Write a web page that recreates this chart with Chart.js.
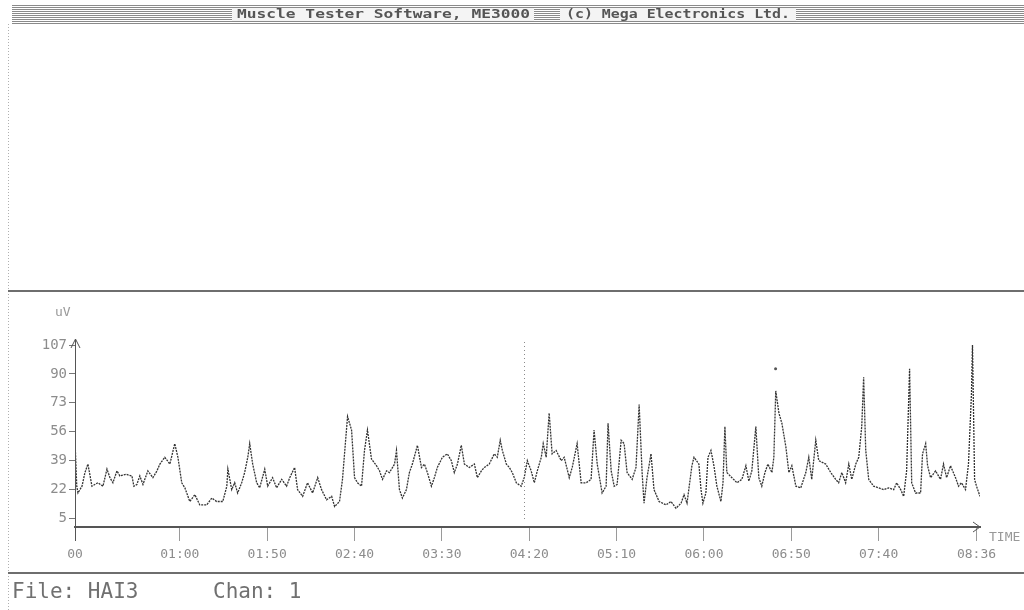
<!DOCTYPE html>
<html lang="en">
<head>
<meta charset="utf-8">
<title>ME3000 - HAI3</title>
<script src="https://cdn.jsdelivr.net/npm/chart.js"></script>
<style>
  html, body { margin: 0; padding: 0; background: #fff; }
  #wrap { width: 1024px; height: 610px; }
</style>
</head>
<body>
<div id="wrap"><canvas id="emgChart" width="1024" height="610"></canvas></div>
<script>
// time in seconds, amplitude in uV
const times = [
  0, 1, 1.7, 4, 5.7, 7.4, 9.7, 13.1, 16, 18.3, 20, 21.7, 24, 25.7, 29.1, 32.6, 33.7, 35.4, 37.1, 38.9,
  41.7, 44.6, 46.9, 48.6, 51.4, 54.3, 57.1, 58.9, 61.1, 62.9, 65.7, 68.6, 71.4, 75.4, 78.3, 81.1, 84.6, 86.9, 87.5, 89.7,
  91.4, 93.1, 95.4, 97.1, 98.9, 100, 101.7, 104, 105.7, 108.6, 110.3, 113.1, 115.4, 118.3, 121.1, 122.9, 125.7, 127.4, 130.3, 133.1,
  136, 138.9, 141.1, 144, 146.9, 148.6, 151.4, 153.1, 156, 158.3, 160, 161.7, 164, 165.7, 167.4, 169.7, 172.6, 174.3, 176, 178.3,
  180, 182.9, 184, 185.7, 187.4, 189.7, 191.4, 193.1, 196, 198.3, 200, 201.7, 204, 205.7, 207.4, 210.3, 213.1, 215.4, 217.1, 218.9,
  221.1, 222.9, 225.7, 228.6, 230.3, 232.6, 234.3, 237.1, 240, 241.7, 243.4, 244.6, 246.9, 248.6, 250.3, 252.6, 255.4, 257.1, 258.9, 261.1,
  262.9, 264.6, 266.9, 268, 269.7, 271.4, 273.1, 275.4, 278.3, 280, 282.9, 284.6, 287.4, 289.7, 292.6, 295.4, 297.1, 298.9, 301.7, 304,
  305.1, 306.9, 308.6, 310.3, 312.6, 314.3, 316, 318.9, 321.1, 322.9, 324.6, 325.7, 327.4, 329.7, 331.4, 334.3, 338.3, 341.1, 344, 346.9,
  348.6, 350.3, 353.1, 354.3, 357.1, 358.3, 359.4, 361.1, 362.3, 364, 365.7, 367.4, 369.7, 370.9, 372, 373.1, 376, 378.9, 381.7, 384,
  385.7, 387.4, 389.7, 391.4, 393.1, 394.9, 396.6, 398.9, 400, 401.1, 402.9, 404.6, 406.9, 408.6, 410.3, 412.6, 415.4, 418.3, 420, 421.7,
  424, 425.7, 429.7, 432.6, 435.4, 437.1, 438.9, 441.1, 442.9, 444.6, 446.9, 448.6, 450.3, 451.4, 452.6, 454.3, 457.1, 460, 462.9, 465.7,
  468.6, 470.3, 472.6, 474.3, 476, 477.7, 478.9, 481.1, 484, 485.1, 486.9, 488, 489.7, 492.6, 495.4, 497.1, 498.9, 501.1, 504, 505.7,
  507.4, 509.7, 511.4, 513.1, 513.7, 514.9, 516, 518
];
const microvolts = [
  51, 24, 20, 24, 32, 37, 24, 26, 24, 34, 29, 26, 33, 30, 31, 30, 24, 25, 30, 25,
  33, 29, 33, 37, 41, 37, 49, 41, 26, 23, 15, 19, 13, 13, 17, 15, 15, 24, 34, 22,
  26, 20, 26, 32, 41, 49, 37, 26, 23, 34, 24, 29, 23, 28, 24, 29, 35, 22, 18, 26,
  20, 29, 22, 16, 18, 12, 15, 28, 65, 57, 29, 26, 24, 45, 57, 40, 36, 33, 28, 33,
  32, 37, 45, 22, 17, 22, 32, 37, 48, 35, 37, 32, 24, 29, 35, 41, 43, 39, 32, 37,
  48, 37, 35, 37, 29, 33, 35, 37, 43, 41, 51, 45, 37, 35, 32, 26, 24, 29, 39, 33,
  26, 33, 41, 49, 41, 67, 43, 45, 39, 41, 29, 35, 49, 26, 26, 28, 57, 37, 20, 24,
  61, 33, 24, 25, 51, 49, 32, 28, 35, 72, 32, 14, 29, 43, 22, 15, 13, 15, 11, 14,
  19, 14, 36, 41, 37, 22, 14, 20, 41, 45, 36, 24, 15, 26, 59, 32, 29, 26, 28, 36,
  27, 33, 59, 29, 24, 32, 37, 32, 41, 80, 67, 61, 47, 32, 36, 24, 23, 32, 41, 28,
  51, 39, 37, 32, 28, 26, 32, 26, 37, 28, 37, 41, 59, 88, 45, 28, 24, 23, 22, 23,
  22, 26, 22, 18, 33, 93, 26, 20, 20, 43, 49, 36, 29, 33, 28, 37, 29, 36, 29, 24,
  26, 22, 37, 78, 107, 28, 24, 18
];
// lone stray dot above the 06:50 burst
const strayTimes = [401];
const strayValues = [93];

const yTicks = [5, 22, 39, 56, 73, 90, 107];
const xTicks = [0, 60, 110, 160, 210, 260, 310, 360, 410, 460, 516];
const xTickLabels = ['00', '01:00', '01:50', '02:40', '03:30', '04:20', '05:10', '06:00', '06:50', '07:40', '08:36'];
const cursorTime = 257;

const MONO = '"DejaVu Sans Mono", "Liberation Mono", monospace';

function stretchText(ctx, text, x, y, width) {
    const w = ctx.measureText(text).width;
    ctx.save();
    ctx.translate(x, y);
    ctx.scale(width / w, 1);
    ctx.fillText(text, 0, 0);
    ctx.restore();
}

// screen furniture of the old ME3000 printout
const screenFrame = {
    id: 'screenFrame',
    beforeDraw(chart) {
        const ctx = chart.ctx;
        ctx.save();
        ctx.fillStyle = '#fff';
        ctx.fillRect(0, 0, chart.width, chart.height);

        // striped title bar
        ctx.strokeStyle = '#8a8a8a';
        ctx.lineWidth = 1;
        for (let y = 5.5; y < 24; y += 2) {
            ctx.beginPath();
            ctx.moveTo(12, y);
            ctx.lineTo(1024, y);
            ctx.stroke();
        }
        ctx.fillStyle = '#f4f4f4';
        ctx.fillRect(232, 8, 302, 13);
        ctx.fillRect(560, 8, 236, 13);
        ctx.fillStyle = '#555';
        ctx.font = 'bold 12px ' + MONO;
        ctx.textBaseline = 'middle';
        stretchText(ctx, 'Muscle Tester Software, ME3000', 237, 15, 293);
        stretchText(ctx, '(c) Mega Electronics Ltd.', 566, 15, 224);

        // panel borders
        ctx.strokeStyle = '#b0b0b0';
        ctx.setLineDash([1, 2]);
        ctx.beginPath();
        ctx.moveTo(8.5, 24);
        ctx.lineTo(8.5, 610);
        ctx.stroke();
        ctx.setLineDash([]);
        ctx.strokeStyle = '#6e6e6e';
        ctx.lineWidth = 2;
        [291, 573].forEach(y => {
            ctx.beginPath();
            ctx.moveTo(8, y);
            ctx.lineTo(1024, y);
            ctx.stroke();
        });

        // footer
        ctx.fillStyle = '#707070';
        ctx.font = '21px ' + MONO;
        ctx.textBaseline = 'alphabetic';
        ctx.fillText('File: HAI3', 12, 598);
        ctx.fillText('Chan: 1', 213, 598);
        ctx.restore();
    },
    afterDraw(chart) {
        const ctx = chart.ctx;
        const xs = chart.scales.x;
        const area = chart.chartArea;
        ctx.save();
        ctx.strokeStyle = '#555';
        ctx.lineWidth = 1;
        // axis arrow heads and extensions
        ctx.beginPath();
        ctx.moveTo(area.left + 0.5, area.top - 6);
        ctx.lineTo(area.left + 0.5, area.bottom + 14);
        ctx.moveTo(area.left - 4, area.top + 3);
        ctx.lineTo(area.left + 0.5, area.top - 6);
        ctx.lineTo(area.left + 5, area.top + 3);
        ctx.moveTo(area.right - 7, area.bottom - 5);
        ctx.lineTo(area.right, area.bottom);
        ctx.lineTo(area.right - 7, area.bottom + 5);
        ctx.stroke();

        // cursor marker
        const cx = Math.round(xs.getPixelForValue(cursorTime)) + 0.5;
        ctx.strokeStyle = '#8a8a8a';
        ctx.setLineDash([1, 3]);
        ctx.beginPath();
        ctx.moveTo(cx, area.top - 3);
        ctx.lineTo(cx, area.bottom - 6);
        ctx.stroke();
        ctx.setLineDash([]);

        ctx.fillStyle = '#999';
        ctx.font = '13px ' + MONO;
        ctx.textBaseline = 'middle';
        ctx.fillText('uV', 55, 313);
        ctx.fillText('TIME', 989, 538);
        ctx.restore();
    }
};

const ctx = document.getElementById('emgChart').getContext('2d');
new Chart(ctx, {
    type: 'line',
    data: {
        datasets: [{
            data: times.map((t, i) => ({ x: t, y: microvolts[i] })),
            borderColor: '#333',
            borderWidth: 1.3,
            borderDash: [2, 1],
            pointRadius: 0,
            tension: 0
        }, {
            type: 'scatter',
            data: strayTimes.map((t, i) => ({ x: t, y: strayValues[i] })),
            pointRadius: 1.5,
            pointBackgroundColor: '#555',
            pointBorderWidth: 0
        }]
    },
    options: {
        responsive: false,
        animation: false,
        layout: { padding: { top: 345, right: 44, bottom: 37, left: 0 } },
        plugins: { legend: { display: false }, tooltip: { enabled: false } },
        scales: {
            x: {
                type: 'linear',
                min: 0,
                max: 518,
                afterBuildTicks: scale => { scale.ticks = xTicks.map(v => ({ value: v })); },
                afterFit: scale => { scale.height = 46; },
                ticks: {
                    autoSkip: false,
                    maxRotation: 0,
                    padding: 6,
                    color: '#8c8c8c',
                    font: { family: MONO, size: 13 },
                    callback: (v, i) => xTickLabels[i]
                },
                grid: { drawOnChartArea: false, tickLength: 14, tickColor: '#9a9a9a' },
                border: { color: '#555', width: 2 }
            },
            y: {
                min: 0,
                max: 107,
                afterBuildTicks: scale => { scale.ticks = yTicks.map(v => ({ value: v })); },
                afterFit: scale => { scale.width = 75; },
                ticks: {
                    autoSkip: false,
                    padding: 2,
                    color: '#8c8c8c',
                    font: { family: MONO, size: 14 }
                },
                grid: { drawOnChartArea: false, tickLength: 6, tickColor: '#777' },
                border: { color: '#555', width: 1 }
            }
        }
    },
    plugins: [screenFrame]
});
</script>
</body>
</html>
